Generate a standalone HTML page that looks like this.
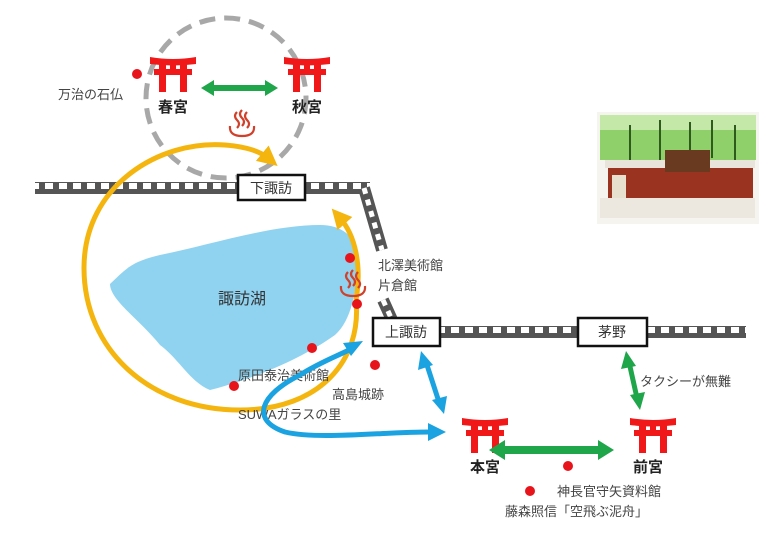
<!DOCTYPE html>
<html><head><meta charset="utf-8"><style>
html,body{margin:0;padding:0;background:#fff;}
svg{display:block;font-family:"Liberation Sans","Noto Sans CJK JP",sans-serif;}
</style></head><body>
<svg width="779" height="536" viewBox="0 0 779 536" xmlns="http://www.w3.org/2000/svg">
<defs>
<pattern id="trk" width="14" height="12" patternUnits="userSpaceOnUse">
<rect width="14" height="12" fill="#555"/><rect x="3" y="3" width="8" height="6" fill="#fff"/>
</pattern>
<g id="torii">
<path d="M0 0 Q23 4 46 0 L46 7 Q23 10 0 7 Z" fill="#f01818"/>
<rect x="4" y="12" width="38" height="6" fill="#f01818"/>
<rect x="9" y="7" width="7" height="28" fill="#f01818"/>
<rect x="30" y="7" width="7" height="28" fill="#f01818"/>
<rect x="20" y="7" width="6" height="6" fill="#f01818"/>
</g>
<g id="onsen" fill="none" stroke="#d0402a" stroke-width="2.2">
<path d="M-12 2 Q-13 12 0 12 Q13 12 12 2"/>
<path d="M-5 -12 q-4 4 0 8 q4 4 0 8"/>
<path d="M0 -14 q-4 4 0 8 q4 4 0 8"/>
<path d="M5 -12 q-4 4 0 8 q4 4 0 8"/>
</g>
<marker id="ay" markerWidth="4" markerHeight="4" refX="1.5" refY="2" orient="auto" markerUnits="strokeWidth"><path d="M0 0 L4 2 L0 4 Z" fill="#f5b50f"/></marker>
</defs>

<!-- photo -->
<rect x="597" y="112" width="162" height="112" fill="#f6f4ee"/>
<rect x="600" y="115" width="156" height="45" fill="#8fd06a"/>
<rect x="600" y="115" width="156" height="15" fill="#c4e8a8"/>
<g stroke="#2e5a1e" stroke-width="2">
<line x1="630" y1="125" x2="630" y2="160"/><line x1="660" y1="120" x2="660" y2="160"/><line x1="690" y1="122" x2="690" y2="158"/><line x1="712" y1="120" x2="712" y2="158"/><line x1="735" y1="125" x2="735" y2="160"/>
</g>
<rect x="605" y="160" width="150" height="8" fill="#e8e4dc"/>
<rect x="608" y="168" width="145" height="30" fill="#9a3420"/>
<rect x="665" y="150" width="45" height="22" fill="#6a3a20"/>
<rect x="612" y="175" width="14" height="35" fill="#e8e0cf"/>
<rect x="600" y="198" width="155" height="20" fill="#ece8df"/>

<!-- dashed circle -->
<circle cx="226" cy="98" r="80" fill="none" stroke="#a8a8a8" stroke-width="5" stroke-dasharray="16 9"/>

<!-- lake -->
<path d="M110 284 C125 270 130 262 160 255 C210 245 270 225 320 225 C345 225 360 240 358 265 C356 290 352 320 335 335 C300 360 250 380 210 390 C190 382 180 360 160 345 C140 320 110 300 110 284 Z" fill="#8fd3f0"/>

<!-- tracks -->
<rect x="35" y="182" width="335" height="12" fill="url(#trk)"/>
<path d="M364 188 L382 250" stroke="#555" stroke-width="12"/>
<path d="M364 188 L382 250" stroke="#fff" stroke-width="5" stroke-dasharray="6 6"/>
<path d="M383 300 L392 320" stroke="#555" stroke-width="12"/>
<path d="M383 300 L392 320" stroke="#fff" stroke-width="5" stroke-dasharray="6 6"/>
<rect x="440" y="326" width="306" height="12" fill="url(#trk)"/>

<!-- yellow loop -->
<path d="M356 300 C362 360 320 410 240 410 C150 410 84 350 84 268 C84 185 160 140 225 145 C250 147 262 153 268 158" fill="none" stroke="#f5b50f" stroke-width="5" marker-end="url(#ay)"/>
<path d="M356 300 C362 265 355 235 340 218" fill="none" stroke="#f5b50f" stroke-width="5" marker-end="url(#ay)"/>

<!-- stations -->
<rect x="238" y="175" width="67" height="25" fill="#fff" stroke="#111" stroke-width="2.5"/>
<text x="271" y="193" font-size="14" text-anchor="middle" fill="#333">下諏訪</text>
<rect x="373" y="318" width="67" height="28" fill="#fff" stroke="#111" stroke-width="2.5"/>
<text x="406" y="337" font-size="14" text-anchor="middle" fill="#333">上諏訪</text>
<rect x="578" y="318" width="69" height="28" fill="#fff" stroke="#111" stroke-width="2.5"/>
<text x="612" y="337" font-size="14" text-anchor="middle" fill="#333">茅野</text>

<!-- torii top -->
<use href="#torii" x="150" y="57"/>
<use href="#torii" x="284" y="57"/>
<text x="173" y="112" font-size="15" font-weight="bold" text-anchor="middle" fill="#222">春宮</text>
<text x="307" y="112" font-size="15" font-weight="bold" text-anchor="middle" fill="#222">秋宮</text>
<path d="M201 88 L214 80 L214 85 L265 85 L265 80 L278 88 L265 96 L265 91 L214 91 L214 96 Z" fill="#1fa54a"/>
<use href="#onsen" x="242" y="124"/>
<circle cx="137" cy="74" r="5" fill="#e8141c"/>
<text x="58" y="99" font-size="13" fill="#444">万治の石仏</text>

<!-- lake area -->
<text x="218" y="304" font-size="16" fill="#333">諏訪湖</text>
<circle cx="350" cy="258" r="5" fill="#e8141c"/>
<circle cx="357" cy="304" r="5" fill="#e8141c"/>
<circle cx="312" cy="348" r="5" fill="#e8141c"/>
<circle cx="375" cy="365" r="5" fill="#e8141c"/>
<circle cx="234" cy="386" r="5" fill="#e8141c"/>
<use href="#onsen" x="353" y="284"/>
<text x="378" y="270" font-size="13" fill="#444">北澤美術館</text>
<text x="378" y="290" font-size="13" fill="#444">片倉館</text>
<text x="238" y="380" font-size="13" fill="#444">原田泰治美術館</text>
<text x="332" y="399" font-size="13" fill="#444">高島城跡</text>
<text x="238" y="419" font-size="13" fill="#444">SUWAガラスの里</text>

<!-- blue arrows -->
<path d="M430 432 C380 432 320 440 285 432 C250 420 260 395 300 375 C320 362 340 355 355 347" fill="none" stroke="#1aa3e0" stroke-width="5"/>
<path d="M446 432 L428 423 L428 441 Z" fill="#1aa3e0"/>
<path d="M363 341 L343 343 L351 356 Z" fill="#1aa3e0"/>
<path d="M426 362 L439 402" stroke="#1aa3e0" stroke-width="5"/>
<path d="M421 351 L418 370 L433 365 Z" fill="#1aa3e0"/>
<path d="M444 414 L432 400 L447 396 Z" fill="#1aa3e0"/>

<!-- bottom torii -->
<use href="#torii" x="462" y="418"/>
<use href="#torii" x="630" y="418"/>
<text x="485" y="472" font-size="15" font-weight="bold" text-anchor="middle" fill="#222">本宮</text>
<text x="648" y="472" font-size="15" font-weight="bold" text-anchor="middle" fill="#222">前宮</text>
<path d="M489 450 L505 440 L505 446 L598 446 L598 440 L614 450 L598 460 L598 454 L505 454 L505 460 Z" fill="#1fa54a"/>
<path d="M629 362 L637 398" stroke="#1fa54a" stroke-width="5"/>
<path d="M626 351 L621 369 L636 366 Z" fill="#1fa54a"/>
<path d="M640 410 L630 395 L645 392 Z" fill="#1fa54a"/>
<text x="640" y="386" font-size="13" fill="#444">タクシーが無難</text>
<circle cx="568" cy="466" r="5" fill="#e8141c"/>
<circle cx="530" cy="491" r="5" fill="#e8141c"/>
<text x="557" y="496" font-size="13" fill="#444">神長官守矢資料館</text>
<text x="505" y="516" font-size="13" fill="#444">藤森照信「空飛ぶ泥舟」</text>
</svg>
</body></html>
